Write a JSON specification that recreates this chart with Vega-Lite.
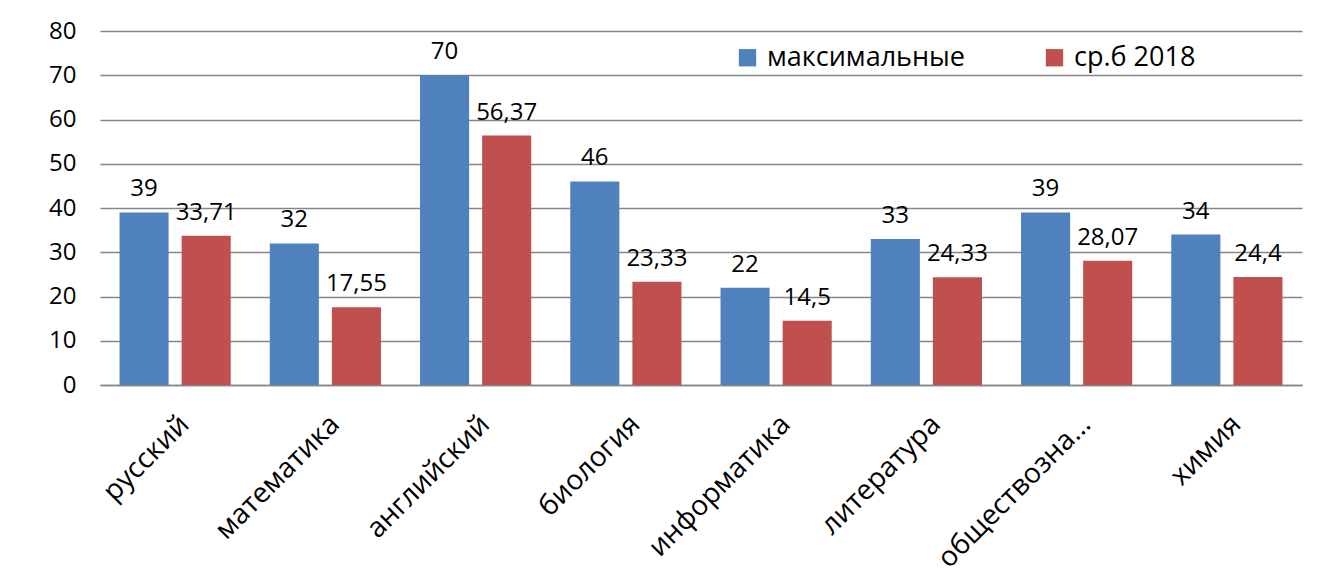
{
  "$schema": "https://vega.github.io/schema/vega-lite/v6.json",
  "width": 1202,
  "height": 354,
  "autosize": {"type": "none"},
  "padding": {"left": 100, "top": 31, "right": 39, "bottom": 201},
  "background": "white",
  "config": {
    "view": {"stroke": null},
    "font": "Open Sans",
    "locale": {"number": {"decimal": ",", "thousands": " ", "grouping": [3], "currency": ["", ""]}}
  },
  "data": {
    "values": [
      {"subject": "русский", "series": "максимальные", "value": 39},
      {"subject": "русский", "series": "ср.б 2018", "value": 33.71},
      {"subject": "математика", "series": "максимальные", "value": 32},
      {"subject": "математика", "series": "ср.б 2018", "value": 17.55},
      {"subject": "английский", "series": "максимальные", "value": 70},
      {"subject": "английский", "series": "ср.б 2018", "value": 56.37},
      {"subject": "биология", "series": "максимальные", "value": 46},
      {"subject": "биология", "series": "ср.б 2018", "value": 23.33},
      {"subject": "информатика", "series": "максимальные", "value": 22},
      {"subject": "информатика", "series": "ср.б 2018", "value": 14.5},
      {"subject": "литература", "series": "максимальные", "value": 33},
      {"subject": "литература", "series": "ср.б 2018", "value": 24.33},
      {"subject": "обществознание", "series": "максимальные", "value": 39},
      {"subject": "обществознание", "series": "ср.б 2018", "value": 28.07},
      {"subject": "химия", "series": "максимальные", "value": 34},
      {"subject": "химия", "series": "ср.б 2018", "value": 24.4}
    ]
  },
  "encoding": {
    "x": {
      "field": "subject", "type": "nominal", "sort": null, "title": null,
      "scale": {"paddingInner": 0.26, "paddingOuter": 0.13},
      "axis": {
        "labelAngle": -45, "labelAlign": "right", "labelBaseline": "top",
        "labelFontSize": 28, "labelColor": "#000000", "labelPadding": 25,
        "labelDx": -9,
        "ticks": false, "domainColor": "#868686", "domainWidth": 1.5,
        "labelLimit": 0, "labelOverlap": false,
        "labelExpr": "datum.label == 'обществознание' ? 'обществозна…' : datum.label"
      }
    },
    "xOffset": {
      "field": "series", "type": "nominal",
      "sort": ["максимальные", "ср.б 2018"],
      "scale": {"paddingInner": 0.21, "paddingOuter": 0}
    },
    "y": {
      "field": "value", "type": "quantitative", "title": null,
      "scale": {"domain": [0, 80], "nice": false},
      "axis": {
        "values": [0, 10, 20, 30, 40, 50, 60, 70, 80],
        "labelFontSize": 24, "labelColor": "#000000", "labelPadding": 24,
        "ticks": false, "domain": false, "grid": true,
        "gridColor": "#868686", "gridWidth": 1.3
      }
    }
  },
  "layer": [
    {
      "mark": {"type": "bar"},
      "encoding": {
        "color": {
          "field": "series", "type": "nominal",
          "scale": {"domain": ["максимальные", "ср.б 2018"], "range": ["#4F81BD", "#C0504D"]},
          "legend": {
            "title": null, "orient": "none", "direction": "horizontal",
            "legendX": 634, "legendY": 13, "symbolType": "square",
            "symbolSize": 300, "symbolStrokeWidth": 0, "labelFontSize": 27,
            "labelColor": "#000000", "columnPadding": 75, "labelOffset": 6,
            "labelLimit": 400, "padding": 0, "symbolOffset": 0
          }
        }
      }
    },
    {
      "mark": {"type": "text", "baseline": "alphabetic", "dy": -16, "fontSize": 24, "color": "#000000"},
      "encoding": {
        "text": {"field": "value", "type": "quantitative", "format": "~g"}
      }
    }
  ]
}
